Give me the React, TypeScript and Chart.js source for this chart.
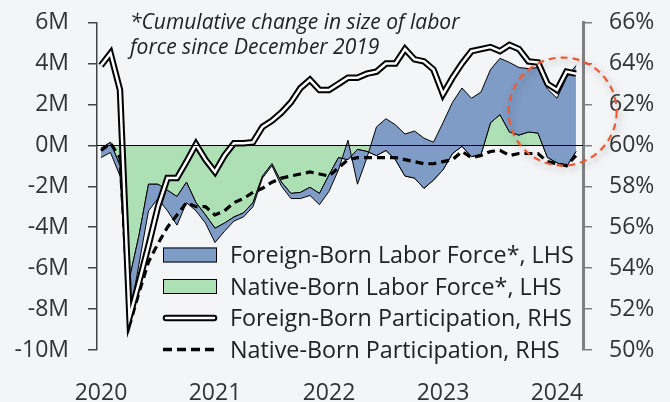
import React, { useEffect, useRef } from 'react';
import { Chart, registerables } from 'chart.js';

Chart.register(...registerables);

// ---- Data (months: index 0 = Jan 2020 ... 50 = Mar 2024) ----
const yearLabels = ['2020', '2021', '2022', '2023', '2024'];
const yearTickMonths = [0, 12, 24, 36, 48];
const leftTickValues = [-10, -8, -6, -4, -2, 0, 2, 4, 6];
const rightTickValues = [50, 52, 54, 56, 58, 60, 62, 64, 66];

// Native-born labor force, cumulative change (M), LHS
const nativeLF = [
  -0.15, 0.15, -1.0, -6.5, -4.4, -1.9, -1.9, -2.2, -2.5, -1.8,
  -2.8, -3.4, -4.05, -3.8, -3.5, -3.3, -2.8, -1.5, -0.9, -1.8,
  -2.35, -2.3, -2.05, -2.35, -1.45, -0.6, -0.7, -0.2, -0.3, -0.5,
  -0.25, -0.7, -1.5, -1.6, -2.1, -1.7, -1.2, -0.4, -0.05, -0.55,
  -0.45, 1.1, 1.5, 0.65, 0.5, 0.65, 0.6, -0.6, -0.85, -1.05,
  -0.3,
];
// Foreign-born labor force band edge (M), LHS
const foreignLF = [
  -0.6, -0.35, -1.5, -8.4, -5.8, -3.2, -2.6, -3.2, -3.9, -2.8,
  -3.2, -3.8, -4.75, -4.2, -3.7, -3.5, -3.0, -1.6, -1.0, -2.0,
  -2.6, -2.6, -2.45, -2.9, -2.25, -1.2, 0.25, -1.9, -0.6, 0.9,
  1.3, 1.0, 0.55, 0.7, 0.35, 0.15, 1.1, 2.1, 2.8, 2.3,
  2.6, 3.7, 4.25, 4.05, 3.8, 3.75, 3.8, 2.75, 2.3, 3.3,
  3.9,
];
// Foreign-born participation (%), RHS
const foreignPart = [
  63.9, 64.5, 62.7, 51.6, 53.3, 55.1, 57.0, 58.4, 58.4, 59.2,
  60.05, 59.3, 58.7, 59.5, 60.1, 60.1, 60.15, 60.9, 61.2, 61.6,
  62.1, 62.8, 63.2, 62.7, 62.7, 63.0, 63.3, 63.3, 63.5, 63.6,
  64.0, 64.0, 64.7, 64.2, 64.1, 63.7, 62.5, 63.3, 64.0, 64.6,
  64.7, 64.8, 64.6, 64.9, 64.7, 64.1, 64.05, 63.0, 62.7, 63.6,
  63.5,
];
// Native-born participation (%), RHS
const nativePart = [
  59.75, 60.1, 59.4, 51.2, 52.8, 54.3, 55.2, 56.0, 56.6, 57.2,
  57.0, 57.0, 56.6, 56.8, 57.2, 57.4, 57.7, 57.9, 58.2, 58.4,
  58.5, 58.6, 58.7, 58.6, 58.5, 58.9, 59.3, 59.4, 59.4, 59.4,
  59.4, 59.4, 59.3, 59.2, 59.1, 59.1, 59.2, 59.3, 59.7, 59.4,
  59.5, 59.7, 59.75, 59.5, 59.6, 59.6, 59.6, 59.2, 59.1, 59.0,
  59.5,
];

const legendLabels = [
  'Foreign-Born Labor Force*, LHS',
  'Native-Born Labor Force*, LHS',
  'Foreign-Born Participation, RHS',
  'Native-Born Participation, RHS',
];
const noteLines = ['*Cumulative change in size of labor', 'force since December 2019'];

const BG = '#f4f5f7';
const BLUE = '#7f9cc6';
const GREEN = '#aee0b6';
const FONT = "'Open Sans', 'Noto Sans', sans-serif";

const toXY = (arr: number[]) => arr.map((v, i) => ({ x: i, y: v }));

const decor = {
  id: 'decor',
  afterDatasetsDraw(chart: any) {
    const { ctx, chartArea, scales } = chart;
    const y0 = Math.round(scales.y.getPixelForValue(0)) + 0.5;
    ctx.save();
    ctx.strokeStyle = '#000';
    ctx.lineWidth = 1;
    ctx.beginPath();
    ctx.moveTo(chartArea.left, y0);
    ctx.lineTo(chartArea.right, y0);
    ctx.stroke();
    ctx.restore();
  },
  afterDraw(chart: any) {
    const { ctx, chartArea, scales } = chart;
    ctx.save();
    // note
    ctx.fillStyle = '#222';
    ctx.font = `italic 21px ${FONT}`;
    ctx.textAlign = 'left';
    ctx.textBaseline = 'alphabetic';
    ctx.fillText(noteLines[0], chartArea.left + 33, chartArea.top + 6);
    ctx.fillText(noteLines[1], chartArea.left + 33, chartArea.top + 31);

    // legend
    const lx = chartArea.left + 66;
    const bw = 54;
    const tx = lx + 67;
    const rowY = (k: number) => chartArea.top + 232.5 + k * 31.5;
    ctx.font = `23.3px ${FONT}`;
    ctx.fillStyle = '#222';
    legendLabels.forEach((lab, k) => {
      const cy = rowY(k);
      if (k === 0 || k === 1) {
        ctx.fillStyle = k === 0 ? BLUE : GREEN;
        ctx.fillRect(lx, cy - 7.5, bw, 15);
        ctx.strokeStyle = '#000';
        ctx.lineWidth = 1;
        ctx.strokeRect(lx + 0.5, cy - 7.5 + 0.5, bw - 1, 15 - 1);
      } else if (k === 2) {
        ctx.lineCap = 'round';
        ctx.strokeStyle = '#000';
        ctx.lineWidth = 6.5;
        ctx.beginPath();
        ctx.moveTo(lx + 3, cy);
        ctx.lineTo(lx + bw - 3, cy);
        ctx.stroke();
        ctx.strokeStyle = '#fff';
        ctx.lineWidth = 2.5;
        ctx.beginPath();
        ctx.moveTo(lx + 3, cy);
        ctx.lineTo(lx + bw - 3, cy);
        ctx.stroke();
        ctx.lineCap = 'butt';
      } else {
        ctx.strokeStyle = '#000';
        ctx.lineWidth = 3.5;
        ctx.setLineDash([9, 5]);
        ctx.beginPath();
        ctx.moveTo(lx, cy);
        ctx.lineTo(lx + bw, cy);
        ctx.stroke();
        ctx.setLineDash([]);
      }
      ctx.fillStyle = '#222';
      ctx.fillText(lab, tx, cy + 8);
    });

    // highlight circle around latest data
    const cx = scales.x.getPixelForValue(48.6);
    const cyc = scales.y.getPixelForValue(1.65);
    ctx.shadowColor = 'rgba(0,0,0,0.35)';
    ctx.shadowBlur = 7;
    ctx.shadowOffsetX = 2;
    ctx.shadowOffsetY = 3;
    ctx.strokeStyle = '#ea5b34';
    ctx.lineWidth = 2.2;
    ctx.setLineDash([7, 5]);
    ctx.beginPath();
    ctx.arc(cx, cyc, 54, 0, Math.PI * 2);
    ctx.stroke();
    ctx.restore();
  },
};

export default function App() {
  const ref = useRef<HTMLCanvasElement | null>(null);

  useEffect(() => {
    document.body.style.margin = '0';
    document.body.style.background = BG;
    const canvas = ref.current!;
    const chart = new Chart(canvas, {
      type: 'line',
      data: {
        datasets: [
          {
            label: 'fp-inner',
            data: toXY(foreignPart),
            yAxisID: 'y2',
            borderColor: '#fff',
            borderWidth: 2.5,
            pointRadius: 0,
            fill: false,
            order: 0,
          },
          {
            label: legendLabels[2],
            data: toXY(foreignPart),
            yAxisID: 'y2',
            borderColor: '#000',
            borderWidth: 6.5,
            pointRadius: 0,
            fill: false,
            order: 1,
          },
          {
            label: legendLabels[3],
            data: toXY(nativePart),
            yAxisID: 'y2',
            borderColor: '#000',
            borderWidth: 3.2,
            borderDash: [8, 5],
            pointRadius: 0,
            fill: false,
            order: 2,
          },
          {
            label: 'native-outline',
            data: toXY(nativeLF),
            yAxisID: 'y',
            borderColor: '#000',
            borderWidth: 1,
            pointRadius: 0,
            fill: false,
            order: 3,
          },
          {
            label: legendLabels[0],
            data: toXY(foreignLF),
            yAxisID: 'y',
            borderColor: '#000',
            borderWidth: 1,
            backgroundColor: BLUE,
            pointRadius: 0,
            fill: 5,
            order: 4,
          },
          {
            label: legendLabels[1],
            data: toXY(nativeLF),
            yAxisID: 'y',
            borderColor: '#000',
            borderWidth: 1,
            backgroundColor: GREEN,
            pointRadius: 0,
            fill: 'origin',
            order: 5,
          },
        ],
      },
      options: {
        responsive: false,
        animation: false,
        events: [],
        layout: { padding: { top: 22.5, left: 0, right: 0, bottom: 0 } },
        plugins: { legend: { display: false }, tooltip: { enabled: false } },
        elements: { line: { tension: 0 } },
        scales: {
          x: {
            type: 'linear',
            min: -0.42,
            max: 50.74,
            grid: { display: false },
            border: { display: false },
            afterBuildTicks: (s: any) => {
              s.ticks = yearTickMonths.map((v) => ({ value: v }));
            },
            afterFit: (s: any) => {
              s.height = 52;
              s.paddingLeft = 0;
              s.paddingRight = 0;
            },
            ticks: {
              autoSkip: false,
              maxRotation: 0,
              padding: 22,
              color: '#333',
              font: { size: 23, family: FONT },
              callback: (v: any) => {
                const k = yearTickMonths.indexOf(Number(v));
                return k >= 0 ? yearLabels[k] : '';
              },
            },
          },
          y: {
            position: 'left',
            min: -10,
            max: 6,
            afterBuildTicks: (s: any) => {
              s.ticks = leftTickValues.map((v) => ({ value: v }));
            },
            afterFit: (s: any) => {
              s.width = 97;
              s.paddingTop = 0;
              s.paddingBottom = 0;
            },
            grid: {
              drawOnChartArea: false,
              drawTicks: true,
              tickLength: 9,
              color: '#444',
              lineWidth: 1.5,
            },
            border: { display: true, color: '#444', width: 1.5 },
            ticks: {
              padding: 19,
              color: '#333',
              font: { size: 23, family: FONT },
              callback: (v: any) => `${v}M`,
            },
          },
          y2: {
            position: 'right',
            min: 50,
            max: 66,
            afterBuildTicks: (s: any) => {
              s.ticks = rightTickValues.map((v) => ({ value: v }));
            },
            afterFit: (s: any) => {
              s.width = 87;
              s.paddingTop = 0;
              s.paddingBottom = 0;
            },
            grid: {
              drawOnChartArea: false,
              drawTicks: true,
              tickLength: 9,
              color: '#808080',
              lineWidth: 1.5,
            },
            border: { display: true, color: '#808080', width: 3 },
            ticks: {
              padding: 17,
              color: '#333',
              font: { size: 23, family: FONT },
              callback: (v: any) => `${v}%`,
            },
          },
        },
      },
      plugins: [decor],
    } as any);
    return () => chart.destroy();
  }, []);

  return (
    <div style={{ width: 670, height: 402, background: BG }}>
      <canvas ref={ref} width={670} height={402} style={{ display: 'block' }} />
    </div>
  );
}
